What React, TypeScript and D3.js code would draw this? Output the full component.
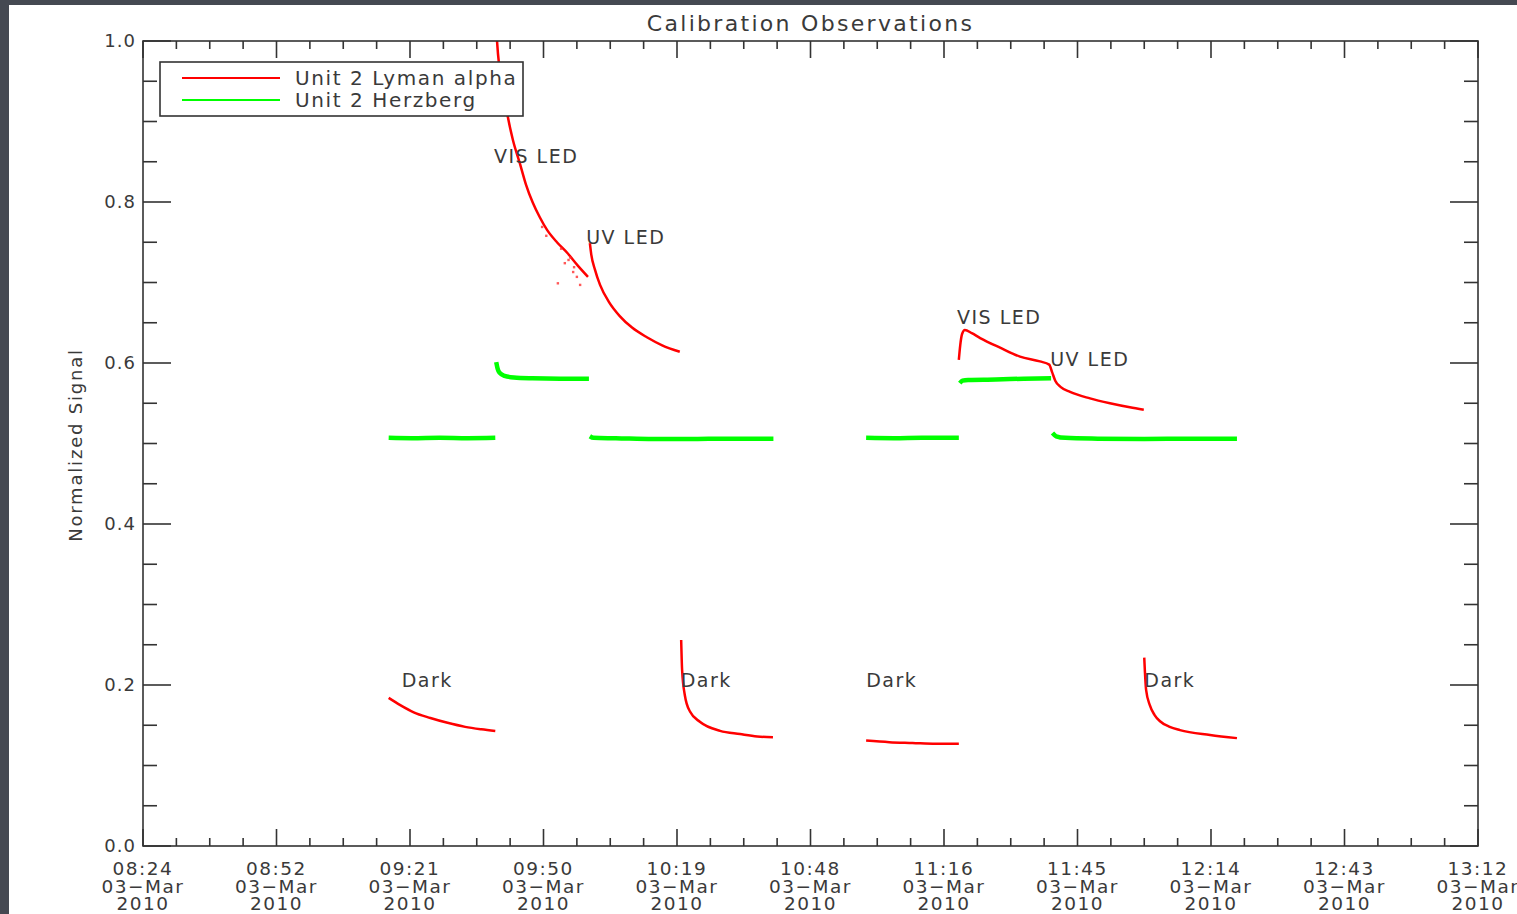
import React from "react";
import * as d3 from "d3";

// Time is stored as minutes after midnight on 03-Mar-2010.
type Pt = [number, number];

const titleText = "Calibration Observations";
const yLabel = "Normalized Signal";

const xTickMinutes = [504, 532.8, 561.6, 590.4, 619.2, 648, 676.8, 705.6, 734.4, 763.2, 792];
const xTickTimes = ["08:24", "08:52", "09:21", "09:50", "10:19", "10:48", "11:16", "11:45", "12:14", "12:43", "13:12"];
const xTickDate = "03\u2212Mar";
const xTickYear = "2010";
const yTicks = [0, 0.2, 0.4, 0.6, 0.8, 1.0];

const legendNames = ["Unit 2 Lyman alpha", "Unit 2 Herzberg"];

// Unit 2 Lyman alpha, one array per observation block
const lyaDark1: Pt[] = [[557.0, 0.184], [559.5, 0.175], [562.4, 0.166], [566.0, 0.159], [569.7, 0.153], [573.5, 0.148], [577.0, 0.145], [580.0, 0.143]];
const lyaVis1: Pt[] = [[580.2, 1.04], [580.4, 0.998], [581.7, 0.939], [582.7, 0.906], [583.8, 0.877], [585.3, 0.848], [586.6, 0.822], [588.1, 0.799], [589.6, 0.781], [591.2, 0.765], [593.3, 0.750], [595.5, 0.737], [597.8, 0.721], [600.0, 0.707]];
const lyaVis1Scatter: Pt[] = [[590.1, 0.769], [591.0, 0.758], [593.5, 0.699], [595.0, 0.724], [596.2, 0.731], [597.6, 0.707], [598.3, 0.697], [596.8, 0.713], [594.2, 0.742], [595.8, 0.728], [597.0, 0.719]];
const lyaUv1: Pt[] = [[600.4, 0.749], [600.7, 0.735], [601.5, 0.716], [602.6, 0.697], [604.5, 0.676], [606.9, 0.658], [609.5, 0.644], [612.7, 0.632], [616.0, 0.622], [619.8, 0.614]];
const lyaDark2: Pt[] = [[620.1, 0.256], [620.3, 0.219], [620.9, 0.187], [622.0, 0.167], [624.2, 0.154], [628.5, 0.143], [632.8, 0.139], [636.5, 0.136], [639.9, 0.135]];
const lyaDark3: Pt[] = [[660.0, 0.131], [665.0, 0.129], [670.0, 0.128], [675.0, 0.127], [680.0, 0.127]];
const lyaVis2: Pt[] = [[680.0, 0.604], [680.3, 0.622], [680.7, 0.636], [681.3, 0.641], [682.8, 0.637], [684.6, 0.631], [688.9, 0.619], [693.2, 0.608], [697.5, 0.602], [699.5, 0.598], [700.1, 0.589], [700.8, 0.578], [702.0, 0.570], [704.0, 0.564], [708.3, 0.556], [712.6, 0.550], [716.9, 0.545], [719.9, 0.542]];
const lyaDark4: Pt[] = [[720.0, 0.234], [720.4, 0.194], [721.2, 0.175], [722.2, 0.163], [723.4, 0.155], [725.5, 0.148], [727.7, 0.144], [734.2, 0.138], [740.0, 0.134]];

// Unit 2 Herzberg
const hzDark1: Pt[] = [[557.0, 0.507], [562.0, 0.5065], [568.0, 0.507], [574.0, 0.5065], [580.0, 0.507]];
const hzVis1: Pt[] = [[580.2, 0.601], [580.5, 0.593], [580.9, 0.588], [582.0, 0.584], [584.0, 0.582], [588.0, 0.581], [594.0, 0.5805], [600.2, 0.5805]];
const hzUv1: Pt[] = [[600.4, 0.509], [601.2, 0.507], [606.0, 0.5065], [614.0, 0.5055], [622.0, 0.5055], [630.0, 0.506], [640.0, 0.506]];
const hzDark3: Pt[] = [[660.0, 0.507], [666.0, 0.5065], [672.0, 0.507], [680.0, 0.507]];
const hzVis2: Pt[] = [[680.2, 0.575], [680.8, 0.578], [682.0, 0.579], [688.0, 0.5795], [694.0, 0.5805], [699.9, 0.581]];
const hzUv2: Pt[] = [[700.2, 0.513], [701.0, 0.509], [703.0, 0.507], [710.0, 0.506], [720.0, 0.5055], [730.0, 0.506], [740.0, 0.506]];

const lyaBlocks = [lyaDark1, lyaVis1, lyaUv1, lyaDark2, lyaDark3, lyaVis2, lyaDark4];
const hzBlocks = [hzDark1, hzVis1, hzUv1, hzDark3, hzVis2, hzUv2];

// Block annotations: [text, minute, value]
const annotations: [string, number, number][] = [
  ["VIS LED", 579.7, 0.848],
  ["UV LED", 599.6, 0.748],
  ["VIS LED", 679.6, 0.648],
  ["UV LED", 699.7, 0.596],
  ["Dark", 559.8, 0.197],
  ["Dark", 620.0, 0.197],
  ["Dark", 660.0, 0.197],
  ["Dark", 720.0, 0.197],
];

const W = 1517;
const H = 914;
const M = { left: 143, right: 1478, top: 41, bottom: 846 };
const FONT = "'DejaVu Sans', sans-serif";
const INK = "#333";
const TXT = "#3a3a3a";

export default function App() {
  const x = d3.scaleLinear().domain([504, 792]).range([M.left, M.right]);
  const y = d3.scaleLinear().domain([0, 1]).range([M.bottom, M.top]);
  const line = d3
    .line<Pt>()
    .x((d) => x(d[0]))
    .y((d) => y(d[1]))
    .curve(d3.curveMonotoneX);

  const xMinor = d3.range(0, 41).map((i) => 504 + i * 7.2);
  const yMinor = d3.range(0, 21).map((i) => i * 0.05);
  const isMajor = (i: number) => i % 4 === 0;

  return (
    <svg
      width={W}
      height={H}
      style={{ position: "absolute", left: 0, top: 0, display: "block" }}
    >
      <defs>
        <clipPath id="plotClip">
          <rect x={M.left} y={M.top} width={M.right - M.left} height={M.bottom - M.top} />
        </clipPath>
      </defs>
      <rect x={0} y={0} width={W} height={H} fill="#454952" />
      <rect x={9} y={5} width={W - 9} height={H - 5} fill="#ffffff" />

      <text
        x={(M.left + M.right) / 2}
        y={31}
        textAnchor="middle"
        fontFamily={FONT}
        fontSize={22}
        letterSpacing={2.3}
        fill={TXT}
      >
        {titleText}
      </text>

      {/* data */}
      <g clipPath="url(#plotClip)">
        {hzBlocks.map((b, i) => (
          <path key={"h" + i} d={line(b) || ""} fill="none" stroke="#00ff00" strokeWidth={4.5} strokeLinejoin="round" />
        ))}
        {lyaBlocks.map((b, i) => (
          <path key={"l" + i} d={line(b) || ""} fill="none" stroke="#ff0000" strokeWidth={2.5} strokeLinejoin="round" />
        ))}
        {lyaVis1Scatter.map((d, i) => (
          <rect key={"s" + i} x={x(d[0]) - 1.2} y={y(d[1]) - 1.2} width={2.4} height={2.4} fill="#ff3030" opacity={0.8} />
        ))}
      </g>

      {/* frame */}
      <rect
        x={M.left}
        y={M.top}
        width={M.right - M.left}
        height={M.bottom - M.top}
        fill="none"
        stroke={INK}
        strokeWidth={1.6}
      />

      {/* x ticks, bottom and top */}
      {xMinor.map((m, i) => {
        const len = isMajor(i) ? 17 : 8;
        const px = x(m);
        return (
          <g key={"xt" + i} stroke={INK} strokeWidth={1.6}>
            <line x1={px} x2={px} y1={M.bottom} y2={M.bottom - len} />
            <line x1={px} x2={px} y1={M.top} y2={M.top + len} />
          </g>
        );
      })}

      {/* y ticks, left and right */}
      {yMinor.map((v, i) => {
        const len = isMajor(i) ? 28 : 14;
        const py = y(v);
        return (
          <g key={"yt" + i} stroke={INK} strokeWidth={1.6}>
            <line x1={M.left} x2={M.left + len} y1={py} y2={py} />
            <line x1={M.right} x2={M.right - len} y1={py} y2={py} />
          </g>
        );
      })}

      {/* y tick labels */}
      {yTicks.map((v) => (
        <text
          key={"yl" + v}
          x={M.left - 7}
          y={y(v)}
          dy="0.36em"
          textAnchor="end"
          fontFamily={FONT}
          fontSize={18}
          letterSpacing={1}
          fill={TXT}
        >
          {v.toFixed(1)}
        </text>
      ))}

      {/* x tick labels */}
      {xTickMinutes.map((m, i) => (
        <text
          key={"xl" + i}
          x={x(m)}
          textAnchor="middle"
          fontFamily={FONT}
          fontSize={18.5}
          letterSpacing={1.5}
          fill={TXT}
        >
          <tspan x={x(m)} y={875}>{xTickTimes[i]}</tspan>
          <tspan x={x(m)} y={893}>{xTickDate}</tspan>
          <tspan x={x(m)} y={910}>{xTickYear}</tspan>
        </text>
      ))}

      <text
        transform={`translate(82, 445) rotate(-90)`}
        textAnchor="middle"
        fontFamily={FONT}
        fontSize={18}
        letterSpacing={1.8}
        fill={TXT}
      >
        {yLabel}
      </text>

      {/* annotations */}
      {annotations.map(([t, m, v], i) => (
        <text
          key={"a" + i}
          x={x(m)}
          y={y(v)}
          fontFamily={FONT}
          fontSize={19}
          letterSpacing={1.5}
          fill={TXT}
        >
          {t}
        </text>
      ))}

      {/* legend */}
      <g>
        <rect x={160} y={62} width={363} height={54} fill="#ffffff" stroke={INK} strokeWidth={1.6} />
        <line x1={182} x2={280} y1={78} y2={78} stroke="#ff0000" strokeWidth={2} />
        <line x1={182} x2={280} y1={100} y2={100} stroke="#00ff00" strokeWidth={2} />
        {legendNames.map((n, i) => (
          <text
            key={n}
            x={295}
            y={85 + i * 22}
            fontFamily={FONT}
            fontSize={20}
            letterSpacing={1.6}
            fill={TXT}
          >
            {n}
          </text>
        ))}
      </g>
    </svg>
  );
}
